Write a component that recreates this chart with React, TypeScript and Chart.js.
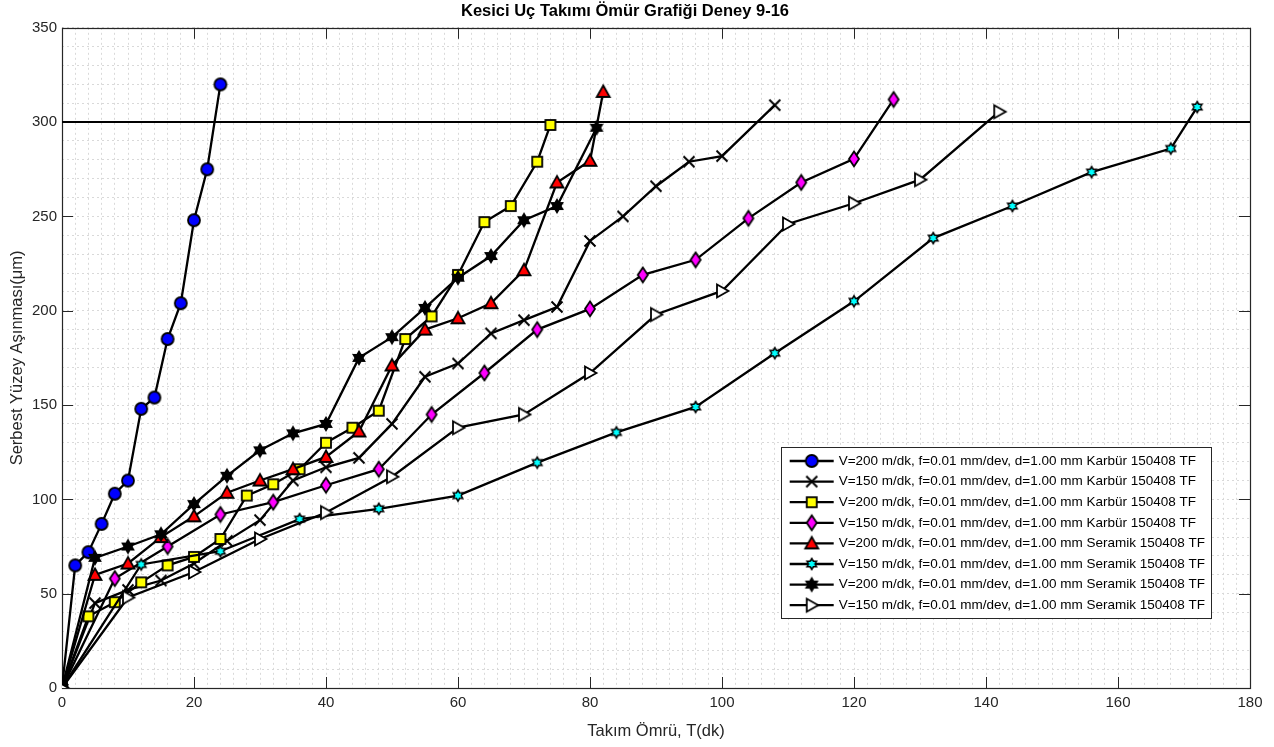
import React, { useEffect, useRef } from 'react';
import { Chart, registerables } from 'chart.js';

Chart.register(...registerables);

const FONT = '"Liberation Sans", Arial, Helvetica, sans-serif';

const TITLE = 'Kesici Uç Takımı Ömür Grafiği Deney 9-16';
const X_LABEL = 'Takım Ömrü, T(dk)';
const Y_LABEL = 'Serbest Yüzey Aşınması(μm)';
const LIMIT = 300;
const X_MIN = 0;
const X_MAX = 180;
const Y_MIN = 0;
const Y_MAX = 350;

const LABELS = [
  'V=200 m/dk, f=0.01 mm/dev, d=1.00 mm Karbür 150408 TF',
  'V=150 m/dk, f=0.01 mm/dev, d=1.00 mm Karbür 150408 TF',
  'V=200 m/dk, f=0.01 mm/dev, d=1.00 mm Karbür 150408 TF',
  'V=150 m/dk, f=0.01 mm/dev, d=1.00 mm Karbür 150408 TF',
  'V=200 m/dk, f=0.01 mm/dev, d=1.00 mm Seramik 150408 TF',
  'V=150 m/dk, f=0.01 mm/dev, d=1.00 mm Seramik 150408 TF',
  'V=200 m/dk, f=0.01 mm/dev, d=1.00 mm Seramik 150408 TF',
  'V=150 m/dk, f=0.01 mm/dev, d=1.00 mm Seramik 150408 TF',
];

const s1x = [0, 2, 4, 6, 8, 10, 12, 14, 16, 18, 20, 22, 24];
const s1y = [0, 65, 72, 87, 103, 110, 148, 154, 185, 204, 248, 275, 320];

const s2x = [0, 5, 10, 15, 20, 25, 30, 35, 40, 45, 50, 55, 60, 65, 70, 75, 80, 85, 90, 95, 100, 108];
const s2y = [0, 45, 52, 57, 66, 78, 89, 110, 117, 122, 140, 165, 172, 188, 195, 202, 237, 250, 266, 279, 282, 309];

const s3x = [0, 4, 8, 12, 16, 20, 24, 28, 32, 36, 40, 44, 48, 52, 56, 60, 64, 68, 72, 74];
const s3y = [0, 38, 45.5, 56, 65, 69.5, 79, 102, 108, 116, 130, 138, 147, 185, 197, 219, 247, 255.5, 279, 298.5];

const s4x = [0, 8, 16, 24, 32, 40, 48, 56, 64, 72, 80, 88, 96, 104, 112, 120, 126];
const s4y = [0, 58, 75, 92, 98.5, 107.5, 116, 145, 167, 190, 201, 219, 227, 249, 268, 280.5, 312];

const s5x = [0, 5, 10, 15, 20, 25, 30, 35, 40, 45, 50, 55, 60, 65, 70, 75, 80, 82];
const s5y = [0, 60, 66, 80, 91, 103.5, 110, 116, 122.5, 136, 171, 190, 196, 204, 221.5, 268, 279.5, 316];

const s6x = [0, 12, 24, 36, 48, 60, 72, 84, 96, 108, 120, 132, 144, 156, 168, 172];
const s6y = [0, 65.5, 72.5, 89.5, 95, 102, 119.5, 135.5, 149, 177.5, 205, 238.5, 255.5, 273.5, 286, 308];

const s7x = [0, 5, 10, 15, 20, 25, 30, 35, 40, 45, 50, 55, 60, 65, 70, 75, 81];
const s7y = [0, 69, 75, 81.5, 97.5, 112.5, 126, 135, 140, 175, 186, 201.5, 217.5, 229, 248, 255.5, 297];

const s8x = [0, 10, 20, 30, 40, 50, 60, 70, 80, 90, 100, 110, 120, 130, 142];
const s8y = [0, 48, 61.5, 79, 93, 112, 138, 145, 167, 198, 210.5, 246, 257, 269.5, 305.5];

const SERIES_X = [s1x, s2x, s3x, s4x, s5x, s6x, s7x, s8x];
const SERIES_Y = [s1y, s2y, s3y, s4y, s5y, s6y, s7y, s8y];
const MARKERS = ['circle', 'x', 'square', 'diamond', 'triangle', 'hexCyan', 'hexBlack', 'triRight'];

function makeMarker(kind: string): HTMLCanvasElement {
  const c = document.createElement('canvas');
  const W = kind === 'diamond' ? 14 : 18;
  const H = kind === 'diamond' ? 20 : 18;
  c.width = W;
  c.height = H;
  const ctx = c.getContext('2d')!;
  const cx = W / 2;
  const cy = H / 2;
  ctx.lineJoin = 'miter';
  ctx.strokeStyle = '#000';
  ctx.lineWidth = 1.8;
  const star = (ro: number, ri: number) => {
    ctx.beginPath();
    for (let k = 0; k < 12; k++) {
      const r = k % 2 === 0 ? ro : ri;
      const a = -Math.PI / 2 + (k * Math.PI) / 6;
      const px = cx + r * Math.cos(a);
      const py = cy + r * Math.sin(a);
      if (k === 0) ctx.moveTo(px, py);
      else ctx.lineTo(px, py);
    }
    ctx.closePath();
  };
  switch (kind) {
    case 'circle':
      ctx.beginPath();
      ctx.arc(cx, cy, 6, 0, Math.PI * 2);
      ctx.fillStyle = '#0000ff';
      ctx.fill();
      ctx.stroke();
      break;
    case 'x':
      ctx.lineWidth = 2;
      ctx.beginPath();
      ctx.moveTo(cx - 5.5, cy - 5.5);
      ctx.lineTo(cx + 5.5, cy + 5.5);
      ctx.moveTo(cx + 5.5, cy - 5.5);
      ctx.lineTo(cx - 5.5, cy + 5.5);
      ctx.stroke();
      break;
    case 'square':
      ctx.fillStyle = '#ffff00';
      ctx.fillRect(cx - 5, cy - 5, 10, 10);
      ctx.strokeRect(cx - 5, cy - 5, 10, 10);
      break;
    case 'diamond':
      ctx.beginPath();
      ctx.moveTo(cx, cy - 7.5);
      ctx.lineTo(cx + 5, cy);
      ctx.lineTo(cx, cy + 7.5);
      ctx.lineTo(cx - 5, cy);
      ctx.closePath();
      ctx.fillStyle = '#ff00ff';
      ctx.fill();
      ctx.stroke();
      break;
    case 'triangle':
      ctx.beginPath();
      ctx.moveTo(cx, cy - 6.5);
      ctx.lineTo(cx + 6.5, cy + 5);
      ctx.lineTo(cx - 6.5, cy + 5);
      ctx.closePath();
      ctx.fillStyle = '#ff0000';
      ctx.fill();
      ctx.stroke();
      break;
    case 'hexCyan':
      ctx.lineWidth = 1.5;
      star(5.5, 3.2);
      ctx.fillStyle = '#00ffff';
      ctx.fill();
      ctx.stroke();
      break;
    case 'hexBlack':
      ctx.lineWidth = 1.5;
      star(6.5, 3.8);
      ctx.fillStyle = '#000';
      ctx.fill();
      ctx.stroke();
      break;
    case 'triRight':
      ctx.beginPath();
      ctx.moveTo(cx + 6.5, cy);
      ctx.lineTo(cx - 5, cy - 6.5);
      ctx.lineTo(cx - 5, cy + 6.5);
      ctx.closePath();
      ctx.fillStyle = '#ffffff';
      ctx.fill();
      ctx.stroke();
      break;
  }
  return c;
}

export default function App() {
  const ref = useRef<HTMLCanvasElement | null>(null);

  useEffect(() => {
    if (!ref.current) return;
    const markerImgs = MARKERS.map(makeMarker);

    const datasets: any[] = SERIES_X.map((xs, i) => ({
      label: LABELS[i],
      data: xs.map((x, j) => ({ x, y: SERIES_Y[i][j] })),
      borderColor: '#000',
      backgroundColor: '#000',
      borderWidth: 2.3,
      pointStyle: markerImgs[i],
      pointRadius: 6,
      pointHoverRadius: 6,
      tension: 0,
      fill: false,
      order: 10 - i,
    }));
    datasets.push({
      label: 'limit',
      data: [
        { x: X_MIN, y: LIMIT },
        { x: X_MAX, y: LIMIT },
      ],
      borderColor: '#000',
      borderWidth: 2,
      pointRadius: 0,
      fill: false,
      order: 100,
    });

    const axisTicks = {
      id: 'axisTicks',
      beforeDatasetsDraw(chart: any) {
        const { ctx, chartArea, scales } = chart;
        const { left, right, top, bottom } = chartArea;
        ctx.save();
        ctx.strokeStyle = '#262626';
        ctx.lineWidth = 1;
        const L = 11;
        for (let v = X_MIN; v <= X_MAX; v += 20) {
          const px = Math.round(scales.x.getPixelForValue(v)) + 0.5;
          ctx.beginPath();
          ctx.moveTo(px, bottom);
          ctx.lineTo(px, bottom - L);
          ctx.moveTo(px, top);
          ctx.lineTo(px, top + L);
          ctx.stroke();
        }
        for (let v = Y_MIN; v <= Y_MAX; v += 50) {
          const py = Math.round(scales.y.getPixelForValue(v)) + 0.5;
          ctx.beginPath();
          ctx.moveTo(left, py);
          ctx.lineTo(left + L, py);
          ctx.moveTo(right, py);
          ctx.lineTo(right - L, py);
          ctx.stroke();
        }
        ctx.lineWidth = 1.2;
        ctx.strokeRect(Math.round(left) + 0.5, Math.round(top) + 0.5, Math.round(right - left), Math.round(bottom - top));
        ctx.restore();
      },
    };

    const customLegend = {
      id: 'customLegend',
      afterDraw(chart: any) {
        const { ctx, chartArea } = chart;
        ctx.save();
        ctx.font = `13.5px ${FONT}`;
        let maxW = 0;
        LABELS.forEach((l) => {
          maxW = Math.max(maxW, ctx.measureText(l).width);
        });
        const rowH = 20.6;
        const boxRight = chartArea.right - 39;
        const boxBottom = chartArea.bottom - 70;
        const boxH = rowH * LABELS.length + 6;
        const lineW = 44;
        const boxW = 9 + lineW + 5 + maxW + 6;
        const boxLeft = boxRight - boxW;
        const boxTop = boxBottom - boxH;
        ctx.fillStyle = '#fff';
        ctx.fillRect(boxLeft, boxTop, boxW, boxH);
        ctx.strokeStyle = '#262626';
        ctx.lineWidth = 1;
        ctx.strokeRect(Math.round(boxLeft) + 0.5, Math.round(boxTop) + 0.5, Math.round(boxW), Math.round(boxH));
        LABELS.forEach((l, i) => {
          const cy = boxTop + 3 + rowH * (i + 0.5) + 0.5;
          const x0 = boxLeft + 9;
          ctx.strokeStyle = '#000';
          ctx.lineWidth = 2.3;
          ctx.beginPath();
          ctx.moveTo(x0, cy);
          ctx.lineTo(x0 + lineW, cy);
          ctx.stroke();
          const img = markerImgs[i];
          ctx.drawImage(img, x0 + lineW / 2 - img.width / 2, cy - img.height / 2);
          ctx.fillStyle = '#000';
          ctx.textBaseline = 'middle';
          ctx.textAlign = 'left';
          ctx.fillText(l, x0 + lineW + 5, cy);
        });
        ctx.restore();
      },
    };

    const chart = new Chart(ref.current, {
      type: 'line',
      data: { datasets },
      plugins: [axisTicks, customLegend],
      options: {
        animation: false,
        responsive: true,
        maintainAspectRatio: false,
        layout: { padding: { left: 0, right: 24, top: 0, bottom: 0 } },
        plugins: {
          legend: { display: false },
          tooltip: { enabled: false },
          title: {
            display: true,
            text: TITLE,
            color: '#000',
            font: { family: FONT, size: 16.5, weight: 'bold' },
            padding: { top: 2, bottom: 6 },
          },
        },
        scales: {
          x: {
            type: 'linear',
            position: 'bottom',
            min: X_MIN,
            max: X_MAX,
            ticks: {
              stepSize: 2,
              autoSkip: false,
              maxRotation: 0,
              minRotation: 0,
              maxTicksLimit: 1000,
              color: '#262626',
              font: { family: FONT, size: 15 },
              padding: 6,
              callback: (v: any) => (Number(v) % 20 === 0 ? String(v) : ''),
            },
            grid: { color: '#d9d9d9', lineWidth: 1, drawTicks: false },
            border: { display: false, dash: [2, 3] },
            title: {
              display: true,
              text: X_LABEL,
              color: '#262626',
              font: { family: FONT, size: 16.5 },
              padding: { top: 0, bottom: 6 },
            },
            afterFit: (s: any) => {
              s.height = 59;
            },
          },
          y: {
            type: 'linear',
            min: Y_MIN,
            max: Y_MAX,
            ticks: {
              stepSize: 10,
              autoSkip: false,
              maxTicksLimit: 1000,
              color: '#262626',
              font: { family: FONT, size: 15 },
              padding: 5,
              callback: (v: any) => (Number(v) % 50 === 0 ? String(v) : ''),
            },
            grid: { color: '#d9d9d9', lineWidth: 1, drawTicks: false },
            border: { display: false, dash: [2, 3] },
            title: {
              display: true,
              text: Y_LABEL,
              color: '#262626',
              font: { family: FONT, size: 16.5 },
              padding: { top: 8, bottom: 0 },
            },
            afterFit: (s: any) => {
              s.width = 62;
            },
          },
        },
      } as any,
    });
    return () => chart.destroy();
  }, []);

  return (
    <div style={{ position: 'fixed', left: 0, top: 0, width: 1274, height: 747, background: '#fff' }}>
      <canvas ref={ref} />
    </div>
  );
}
